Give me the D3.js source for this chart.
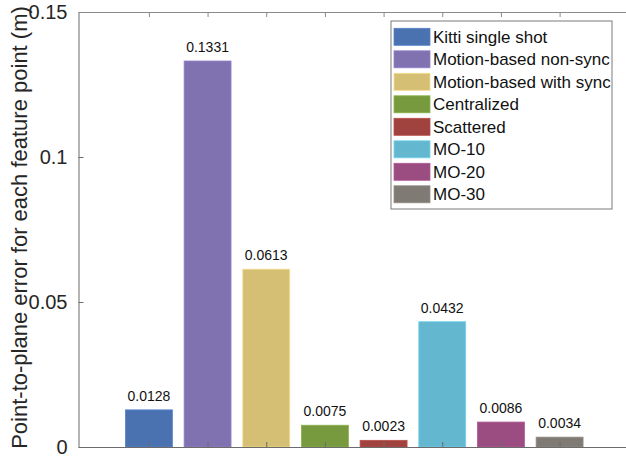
<!DOCTYPE html>
<html>
<head>
<meta charset="utf-8">
<script src="https://cdn.jsdelivr.net/npm/d3@7"></script>
<style>
  html, body { margin: 0; padding: 0; background: #fff; }
  svg { display: block; font-family: Arial, "Liberation Sans", Helvetica, sans-serif; }
</style>
</head>
<body>
<svg id="chart" width="626" height="457"></svg>
<script>
// Method names, one bar per method
const methods = [
  "Kitti single shot",
  "Motion-based non-sync",
  "Motion-based with sync",
  "Centralized",
  "Scattered",
  "MO-10",
  "MO-20",
  "MO-30"
];
// Mean point-to-plane error (m)
const errors = [0.0128, 0.1331, 0.0613, 0.0075, 0.0023, 0.0432, 0.0086, 0.0034];
const barColors = ["#4a72b0", "#8072b0", "#d4bf74", "#779a3f", "#a0433f", "#63b7cf", "#9b4c80", "#7f7a74"];
const yTicks = [0, 0.05, 0.1, 0.15];
const yTickLabels = ["0", "0.05", "0.1", "0.15"];
const yLabel = "Point-to-plane error for each feature point (m)";

const svg = d3.select("#chart");
const plotLeft = 78.5, plotRight = 630, plotTop = 12, plotBottom = 447;

const x = d3.scaleLinear().domain([-0.2, 9.2]).range([plotLeft, plotRight]);
const y = d3.scaleLinear().domain([0, 0.15]).range([plotBottom, plotTop]);
const barW = (x(1) - x(0)) * 0.8;
const idx = d3.range(1, methods.length + 1);

// Bars
svg.append("g").selectAll("rect")
  .data(errors)
  .join("rect")
  .attr("x", (d, i) => x(i + 1) - barW / 2)
  .attr("y", d => y(d))
  .attr("width", barW)
  .attr("height", d => y(0) - y(d))
  .attr("fill", (d, i) => barColors[i])
  .attr("stroke", (d, i) => d3.color(barColors[i]).brighter(0.4))
  .attr("stroke-width", 0.8);

// Value labels above bars
svg.append("g").selectAll("text")
  .data(errors)
  .join("text")
  .attr("x", (d, i) => x(i + 1))
  .attr("y", d => y(d) - 9)
  .attr("text-anchor", "middle")
  .attr("font-size", 14)
  .attr("fill", "#111")
  .text(d => d.toFixed(4));

// Axes
const axisColor = "#6b6b6b";
const yAxis = d3.axisLeft(y).tickValues(yTicks)
  .tickFormat((d, i) => yTickLabels[i]).tickSizeInner(-5).tickSizeOuter(0).tickPadding(11);
const gy = svg.append("g").attr("transform", `translate(${plotLeft},0)`).call(yAxis);
gy.select(".domain").attr("stroke", axisColor);
gy.selectAll(".tick line").attr("stroke", axisColor);
gy.selectAll(".tick text").attr("font-size", 20).attr("fill", "#262626")
  .attr("font-family", "Arial, 'Liberation Sans', sans-serif");

const xBottom = d3.axisBottom(x).tickValues(idx).tickFormat("").tickSizeInner(-5).tickSizeOuter(0);
const gxb = svg.append("g").attr("transform", `translate(0,${plotBottom})`).call(xBottom);
gxb.select(".domain").attr("stroke", axisColor);
gxb.selectAll(".tick line").attr("stroke", axisColor);

const xTop = d3.axisTop(x).tickValues(idx).tickFormat("").tickSizeInner(-5).tickSizeOuter(0);
const gxt = svg.append("g").attr("transform", `translate(0,${plotTop})`).call(xTop);
gxt.select(".domain").attr("stroke", "#8a8a8a");
gxt.selectAll(".tick line").attr("stroke", "#8a8a8a");

// Y axis title
svg.append("text")
  .attr("transform", `translate(27,${(plotTop + plotBottom) / 2 - 2}) rotate(-90)`)
  .attr("text-anchor", "middle")
  .attr("font-size", 22)
  .attr("fill", "#262626")
  .text(yLabel);

// Legend
const lg = svg.append("g").attr("transform", "translate(391,21)");
lg.append("rect")
  .attr("width", 221).attr("height", 188)
  .attr("fill", "#fff").attr("stroke", "#7a7a7a").attr("stroke-width", 1);
const rows = lg.selectAll("g.row").data(methods).join("g")
  .attr("class", "row")
  .attr("transform", (d, i) => `translate(3,${7.3 + i * 22.5})`);
rows.append("rect")
  .attr("width", 36).attr("height", 17)
  .attr("fill", (d, i) => barColors[i])
  .attr("stroke", (d, i) => d3.color(barColors[i]).brighter(0.4))
  .attr("stroke-width", 0.8);
rows.append("text")
  .attr("x", 39).attr("y", 14.5)
  .attr("font-size", 17)
  .attr("fill", "#111")
  .text(d => d);
</script>
</body>
</html>
